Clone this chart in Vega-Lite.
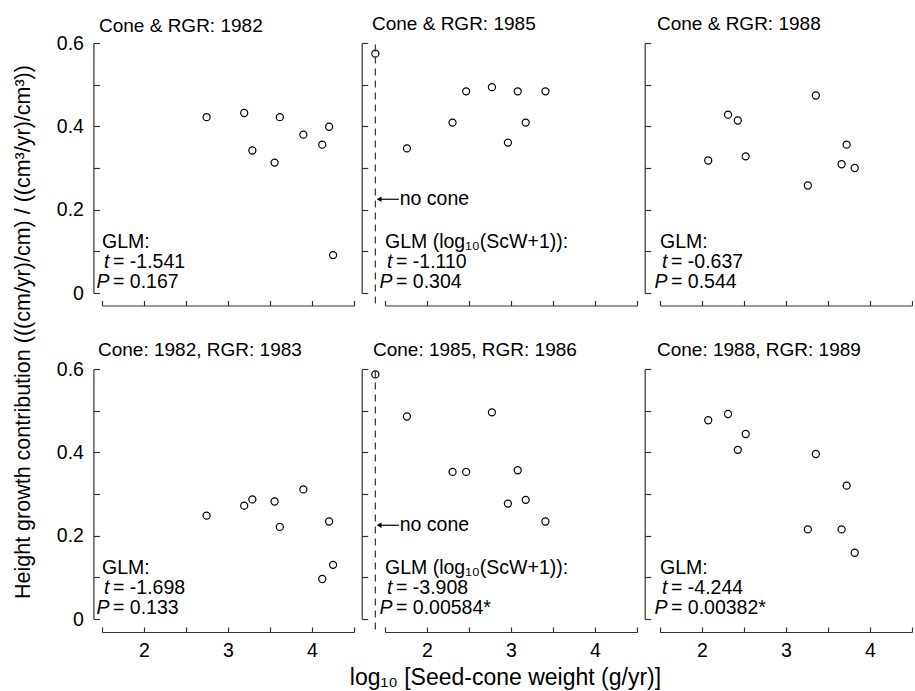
{
  "$schema": "https://vega.github.io/schema/vega-lite/v6.json",
  "background": "white",
  "padding": {"left": 12, "top": 14, "right": 0, "bottom": 0},
  "title": {"text": "Height growth contribution (((cm/yr)/cm) / ((cm³/yr)/cm³))", "orient": "left", "anchor": "middle", "frame": "bounds", "fontSize": 21.5, "fontWeight": "normal", "font": "Liberation Sans", "color": "black", "offset": 22, "dx": 20},
  "datasets": {
    "p1": [{"x": 2.745, "y": 0.422}, {"x": 3.193, "y": 0.432}, {"x": 3.29, "y": 0.342}, {"x": 3.555, "y": 0.313}, {"x": 3.617, "y": 0.422}, {"x": 3.897, "y": 0.38}, {"x": 4.122, "y": 0.356}, {"x": 4.204, "y": 0.399}, {"x": 4.251, "y": 0.091}],
    "p2": [{"x": 1.385, "y": 0.5745}, {"x": 1.761, "y": 0.347}, {"x": 2.304, "y": 0.409}, {"x": 2.466, "y": 0.484}, {"x": 2.773, "y": 0.494}, {"x": 2.963, "y": 0.361}, {"x": 3.08, "y": 0.484}, {"x": 3.175, "y": 0.409}, {"x": 3.41, "y": 0.484}],
    "p3": [{"x": 2.074, "y": 0.318}, {"x": 2.31, "y": 0.428}, {"x": 2.426, "y": 0.414}, {"x": 2.52, "y": 0.328}, {"x": 3.26, "y": 0.258}, {"x": 3.355, "y": 0.474}, {"x": 3.662, "y": 0.309}, {"x": 3.722, "y": 0.356}, {"x": 3.818, "y": 0.3}],
    "p4": [{"x": 2.745, "y": 0.248}, {"x": 3.193, "y": 0.272}, {"x": 3.29, "y": 0.287}, {"x": 3.555, "y": 0.282}, {"x": 3.617, "y": 0.221}, {"x": 3.897, "y": 0.311}, {"x": 4.122, "y": 0.096}, {"x": 4.204, "y": 0.234}, {"x": 4.251, "y": 0.13}],
    "p5": [{"x": 1.385, "y": 0.587}, {"x": 1.761, "y": 0.486}, {"x": 2.304, "y": 0.353}, {"x": 2.466, "y": 0.353}, {"x": 2.773, "y": 0.496}, {"x": 2.963, "y": 0.277}, {"x": 3.08, "y": 0.357}, {"x": 3.175, "y": 0.286}, {"x": 3.41, "y": 0.234}],
    "p6": [{"x": 2.074, "y": 0.477}, {"x": 2.31, "y": 0.492}, {"x": 2.426, "y": 0.406}, {"x": 2.52, "y": 0.444}, {"x": 3.26, "y": 0.215}, {"x": 3.355, "y": 0.396}, {"x": 3.662, "y": 0.215}, {"x": 3.722, "y": 0.32}, {"x": 3.818, "y": 0.159}],
    "stats": [
      {"panel": 1, "glm": "GLM:", "t": "= -1.541", "p": "= 0.167"},
      {"panel": 2, "glm": "GLM (log₁₀(ScW+1)):", "t": "= -1.110", "p": "= 0.304"},
      {"panel": 3, "glm": "GLM:", "t": "= -0.637", "p": "= 0.544"},
      {"panel": 4, "glm": "GLM:", "t": "= -1.698", "p": "= 0.133"},
      {"panel": 5, "glm": "GLM (log₁₀(ScW+1)):", "t": "= -3.908", "p": "= 0.00584*"},
      {"panel": 6, "glm": "GLM:", "t": "= -4.244", "p": "= 0.00382*"}
    ]
  },
  "config": {
    "view": {"stroke": null},
    "font": "Liberation Sans",
    "title": {"font": "Liberation Sans", "fontSize": 19, "fontWeight": "normal", "color": "black"},
    "axis": {"grid": false, "domainColor": "#333", "tickColor": "#333", "domainWidth": 1.2, "tickWidth": 1.2, "labelColor": "black", "labelFont": "Liberation Sans", "labelFontSize": 19.5, "labelOverlap": false, "titleFont": "Liberation Sans", "titleFontWeight": "normal", "titleColor": "black"},
    "point": {"shape": "circle", "filled": false, "stroke": "black", "strokeWidth": 1.2, "size": 50, "opacity": 1},
    "text": {"font": "Liberation Sans", "fontSize": 19.5, "color": "black", "align": "left", "baseline": "alphabetic"}
  },
  "spacing": 33,
  "vconcat": [
    {
      "hconcat": [
        {
          "width": 252, "height": 250,
          "title": {"text": "Cone & RGR: 1982", "anchor": "start", "frame": "group", "offset": -18, "baseline": "alphabetic", "dx": -3},
          "layer": [
            {"data": {"name": "p1"}, "mark": "point", "encoding": {
              "x": {"field": "x", "type": "quantitative", "scale": {"domain": [1.5, 4.5], "nice": false, "zero": false}, "axis": {"values": [1.5, 2, 2.5, 3, 3.5, 4, 4.5], "labels": false, "offset": 12.5, "tickSize": -5, "title": null}},
              "y": {"field": "y", "type": "quantitative", "scale": {"domain": [0, 0.6], "nice": false, "zero": false}, "axis": {"values": [0, 0.1, 0.2, 0.3, 0.4, 0.5, 0.6], "offset": 8.6, "tickSize": -6, "labelPadding": 16, "labelExpr": "round(datum.value*10) % 2 === 0 ? (datum.value === 0 ? '0' : format(datum.value, '.1f')) : ''", "title": null}}}},
            {"data": {"name": "stats"}, "transform": [{"filter": "datum.panel === 1"}], "mark": "text", "encoding": {"x": {"datum": 1.5}, "y": {"datum": 0.108}, "text": {"field": "glm"}}},
            {"data": {"name": "stats"}, "transform": [{"filter": "datum.panel === 1"}], "mark": {"type": "text", "fontStyle": "italic", "lineHeight": 20, "align": "right", "dx": 7.5, "text": ["t", "P"]}, "encoding": {"x": {"datum": 1.5}, "y": {"datum": 0.06}}},
            {"data": {"name": "stats"}, "transform": [{"filter": "datum.panel === 1"}], "mark": {"type": "text", "dx": 11}, "encoding": {"x": {"datum": 1.5}, "y": {"datum": 0.06}, "text": {"field": "t"}}},
            {"data": {"name": "stats"}, "transform": [{"filter": "datum.panel === 1"}], "mark": {"type": "text", "dx": 11}, "encoding": {"x": {"datum": 1.5}, "y": {"datum": 0.012}, "text": {"field": "p"}}}
          ]
        },
        {
          "width": 252, "height": 250,
          "title": {"text": "Cone & RGR: 1985", "anchor": "start", "frame": "group", "offset": -7, "baseline": "alphabetic", "dx": -13},
          "layer": [
            {"data": {"name": "p2"}, "mark": "point", "encoding": {
              "x": {"field": "x", "type": "quantitative", "scale": {"domain": [1.5, 4.5], "nice": false, "zero": false}, "axis": {"values": [1.5, 2, 2.5, 3, 3.5, 4, 4.5], "labels": false, "offset": 12.5, "tickSize": -5, "title": null}},
              "y": {"field": "y", "type": "quantitative", "scale": {"domain": [0, 0.6], "nice": false, "zero": false}, "axis": {"values": [0, 0.1, 0.2, 0.3, 0.4, 0.5, 0.6], "offset": 23.3, "tickSize": -6, "labels": false, "title": null}}}},
            {"data": {"values": [{}]}, "mark": {"type": "rule", "strokeDash": [7, 5], "strokeWidth": 1.2, "color": "#333"}, "encoding": {"x": {"datum": 1.385}, "y": {"datum": -0.025}, "y2": {"datum": 0.602}}},
            {"data": {"values": [{}]}, "mark": {"type": "rule", "strokeWidth": 1.2, "color": "black"}, "encoding": {"x": {"datum": 1.42}, "x2": {"datum": 1.665}, "y": {"datum": 0.225}}},
            {"data": {"values": [{}]}, "mark": {"type": "point", "shape": "triangle-left", "filled": true, "fill": "black", "strokeWidth": 0, "size": 30}, "encoding": {"x": {"datum": 1.43}, "y": {"datum": 0.225}}},
            {"data": {"values": [{}]}, "mark": {"type": "text", "baseline": "middle", "text": "no cone"}, "encoding": {"x": {"datum": 1.675}, "y": {"datum": 0.225}}},
            {"data": {"name": "stats"}, "transform": [{"filter": "datum.panel === 2"}], "mark": "text", "encoding": {"x": {"datum": 1.5}, "y": {"datum": 0.108}, "text": {"field": "glm"}}},
            {"data": {"name": "stats"}, "transform": [{"filter": "datum.panel === 2"}], "mark": {"type": "text", "fontStyle": "italic", "lineHeight": 20, "align": "right", "dx": 7.5, "text": ["t", "P"]}, "encoding": {"x": {"datum": 1.5}, "y": {"datum": 0.06}}},
            {"data": {"name": "stats"}, "transform": [{"filter": "datum.panel === 2"}], "mark": {"type": "text", "dx": 11}, "encoding": {"x": {"datum": 1.5}, "y": {"datum": 0.06}, "text": {"field": "t"}}},
            {"data": {"name": "stats"}, "transform": [{"filter": "datum.panel === 2"}], "mark": {"type": "text", "dx": 11}, "encoding": {"x": {"datum": 1.5}, "y": {"datum": 0.012}, "text": {"field": "p"}}}
          ]
        },
        {
          "width": 252, "height": 250,
          "title": {"text": "Cone & RGR: 1988", "anchor": "start", "frame": "group", "offset": -7, "baseline": "alphabetic", "dx": -3},
          "layer": [
            {"data": {"name": "p3"}, "mark": "point", "encoding": {
              "x": {"field": "x", "type": "quantitative", "scale": {"domain": [1.5, 4.5], "nice": false, "zero": false}, "axis": {"values": [1.5, 2, 2.5, 3, 3.5, 4, 4.5], "labels": false, "offset": 12.5, "tickSize": -5, "title": null}},
              "y": {"field": "y", "type": "quantitative", "scale": {"domain": [0, 0.6], "nice": false, "zero": false}, "axis": {"values": [0, 0.1, 0.2, 0.3, 0.4, 0.5, 0.6], "offset": 15.3, "tickSize": -6, "labels": false, "title": null}}}},
            {"data": {"name": "stats"}, "transform": [{"filter": "datum.panel === 3"}], "mark": "text", "encoding": {"x": {"datum": 1.5}, "y": {"datum": 0.108}, "text": {"field": "glm"}}},
            {"data": {"name": "stats"}, "transform": [{"filter": "datum.panel === 3"}], "mark": {"type": "text", "fontStyle": "italic", "lineHeight": 20, "align": "right", "dx": 7.5, "text": ["t", "P"]}, "encoding": {"x": {"datum": 1.5}, "y": {"datum": 0.06}}},
            {"data": {"name": "stats"}, "transform": [{"filter": "datum.panel === 3"}], "mark": {"type": "text", "dx": 11}, "encoding": {"x": {"datum": 1.5}, "y": {"datum": 0.06}, "text": {"field": "t"}}},
            {"data": {"name": "stats"}, "transform": [{"filter": "datum.panel === 3"}], "mark": {"type": "text", "dx": 11}, "encoding": {"x": {"datum": 1.5}, "y": {"datum": 0.012}, "text": {"field": "p"}}}
          ]
        }
      ],
      "spacing": 6
    },
    {
      "title": {"text": "log₁₀ [Seed-cone weight (g/yr)]", "orient": "bottom", "anchor": "middle", "frame": "bounds", "fontSize": 23, "fontWeight": "normal", "font": "Liberation Sans", "color": "black", "offset": 7, "dx": 21},
      "hconcat": [
        {
          "width": 252, "height": 250,
          "title": {"text": "Cone: 1982, RGR: 1983", "anchor": "start", "frame": "group", "offset": -16, "baseline": "alphabetic", "dx": -4},
          "layer": [
            {"data": {"name": "p4"}, "mark": "point", "encoding": {
              "x": {"field": "x", "type": "quantitative", "scale": {"domain": [1.5, 4.5], "nice": false, "zero": false}, "axis": {"values": [1.5, 2, 2.5, 3, 3.5, 4, 4.5], "offset": 13, "tickSize": -5, "labelPadding": 14, "labelExpr": "datum.value % 1 === 0 ? format(datum.value, 'd') : ''", "title": null}},
              "y": {"field": "y", "type": "quantitative", "scale": {"domain": [0, 0.6], "nice": false, "zero": false}, "axis": {"values": [0, 0.1, 0.2, 0.3, 0.4, 0.5, 0.6], "offset": 8.6, "tickSize": -6, "labelPadding": 16, "labelExpr": "round(datum.value*10) % 2 === 0 ? (datum.value === 0 ? '0' : format(datum.value, '.1f')) : ''", "title": null}}}},
            {"data": {"name": "stats"}, "transform": [{"filter": "datum.panel === 4"}], "mark": "text", "encoding": {"x": {"datum": 1.5}, "y": {"datum": 0.108}, "text": {"field": "glm"}}},
            {"data": {"name": "stats"}, "transform": [{"filter": "datum.panel === 4"}], "mark": {"type": "text", "fontStyle": "italic", "lineHeight": 20, "align": "right", "dx": 7.5, "text": ["t", "P"]}, "encoding": {"x": {"datum": 1.5}, "y": {"datum": 0.06}}},
            {"data": {"name": "stats"}, "transform": [{"filter": "datum.panel === 4"}], "mark": {"type": "text", "dx": 11}, "encoding": {"x": {"datum": 1.5}, "y": {"datum": 0.06}, "text": {"field": "t"}}},
            {"data": {"name": "stats"}, "transform": [{"filter": "datum.panel === 4"}], "mark": {"type": "text", "dx": 11}, "encoding": {"x": {"datum": 1.5}, "y": {"datum": 0.012}, "text": {"field": "p"}}}
          ]
        },
        {
          "width": 252, "height": 250,
          "title": {"text": "Cone: 1985, RGR: 1986", "anchor": "start", "frame": "group", "offset": -7, "baseline": "alphabetic", "dx": -12},
          "layer": [
            {"data": {"name": "p5"}, "mark": "point", "encoding": {
              "x": {"field": "x", "type": "quantitative", "scale": {"domain": [1.5, 4.5], "nice": false, "zero": false}, "axis": {"values": [1.5, 2, 2.5, 3, 3.5, 4, 4.5], "offset": 13, "tickSize": -5, "labelPadding": 14, "labelExpr": "datum.value % 1 === 0 ? format(datum.value, 'd') : ''", "title": null}},
              "y": {"field": "y", "type": "quantitative", "scale": {"domain": [0, 0.6], "nice": false, "zero": false}, "axis": {"values": [0, 0.1, 0.2, 0.3, 0.4, 0.5, 0.6], "offset": 23.3, "tickSize": -6, "labels": false, "title": null}}}},
            {"data": {"values": [{}]}, "mark": {"type": "rule", "strokeDash": [7, 5], "strokeWidth": 1.2, "color": "#333"}, "encoding": {"x": {"datum": 1.385}, "y": {"datum": -0.025}, "y2": {"datum": 0.602}}},
            {"data": {"values": [{}]}, "mark": {"type": "rule", "strokeWidth": 1.2, "color": "black"}, "encoding": {"x": {"datum": 1.42}, "x2": {"datum": 1.665}, "y": {"datum": 0.225}}},
            {"data": {"values": [{}]}, "mark": {"type": "point", "shape": "triangle-left", "filled": true, "fill": "black", "strokeWidth": 0, "size": 30}, "encoding": {"x": {"datum": 1.43}, "y": {"datum": 0.225}}},
            {"data": {"values": [{}]}, "mark": {"type": "text", "baseline": "middle", "text": "no cone"}, "encoding": {"x": {"datum": 1.675}, "y": {"datum": 0.225}}},
            {"data": {"name": "stats"}, "transform": [{"filter": "datum.panel === 5"}], "mark": "text", "encoding": {"x": {"datum": 1.5}, "y": {"datum": 0.108}, "text": {"field": "glm"}}},
            {"data": {"name": "stats"}, "transform": [{"filter": "datum.panel === 5"}], "mark": {"type": "text", "fontStyle": "italic", "lineHeight": 20, "align": "right", "dx": 7.5, "text": ["t", "P"]}, "encoding": {"x": {"datum": 1.5}, "y": {"datum": 0.06}}},
            {"data": {"name": "stats"}, "transform": [{"filter": "datum.panel === 5"}], "mark": {"type": "text", "dx": 11}, "encoding": {"x": {"datum": 1.5}, "y": {"datum": 0.06}, "text": {"field": "t"}}},
            {"data": {"name": "stats"}, "transform": [{"filter": "datum.panel === 5"}], "mark": {"type": "text", "dx": 11}, "encoding": {"x": {"datum": 1.5}, "y": {"datum": 0.012}, "text": {"field": "p"}}}
          ]
        },
        {
          "width": 252, "height": 250,
          "title": {"text": "Cone: 1988, RGR: 1989", "anchor": "start", "frame": "group", "offset": -7, "baseline": "alphabetic", "dx": -3},
          "layer": [
            {"data": {"name": "p6"}, "mark": "point", "encoding": {
              "x": {"field": "x", "type": "quantitative", "scale": {"domain": [1.5, 4.5], "nice": false, "zero": false}, "axis": {"values": [1.5, 2, 2.5, 3, 3.5, 4, 4.5], "offset": 13, "tickSize": -5, "labelPadding": 14, "labelExpr": "datum.value % 1 === 0 ? format(datum.value, 'd') : ''", "title": null}},
              "y": {"field": "y", "type": "quantitative", "scale": {"domain": [0, 0.6], "nice": false, "zero": false}, "axis": {"values": [0, 0.1, 0.2, 0.3, 0.4, 0.5, 0.6], "offset": 15.3, "tickSize": -6, "labels": false, "title": null}}}},
            {"data": {"name": "stats"}, "transform": [{"filter": "datum.panel === 6"}], "mark": "text", "encoding": {"x": {"datum": 1.5}, "y": {"datum": 0.108}, "text": {"field": "glm"}}},
            {"data": {"name": "stats"}, "transform": [{"filter": "datum.panel === 6"}], "mark": {"type": "text", "fontStyle": "italic", "lineHeight": 20, "align": "right", "dx": 7.5, "text": ["t", "P"]}, "encoding": {"x": {"datum": 1.5}, "y": {"datum": 0.06}}},
            {"data": {"name": "stats"}, "transform": [{"filter": "datum.panel === 6"}], "mark": {"type": "text", "dx": 11}, "encoding": {"x": {"datum": 1.5}, "y": {"datum": 0.06}, "text": {"field": "t"}}},
            {"data": {"name": "stats"}, "transform": [{"filter": "datum.panel === 6"}], "mark": {"type": "text", "dx": 11}, "encoding": {"x": {"datum": 1.5}, "y": {"datum": 0.012}, "text": {"field": "p"}}}
          ]
        }
      ],
      "spacing": 6
    }
  ]
}
